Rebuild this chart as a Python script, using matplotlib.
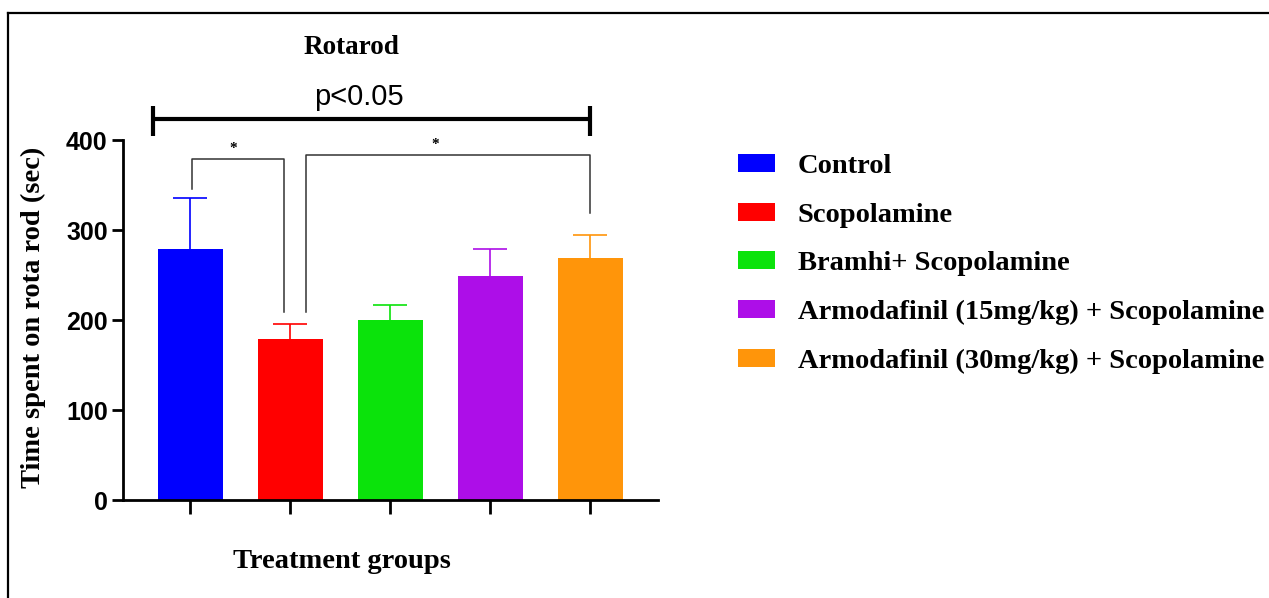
import matplotlib
matplotlib.use("Agg")
import matplotlib.pyplot as plt
from matplotlib.lines import Line2D

# ---- data ----
groups = ["Control", "Scopolamine", "Bramhi+ Scopolamine",
          "Armodafinil (15mg/kg) + Scopolamine", "Armodafinil (30mg/kg) + Scopolamine"]
means = [279, 179, 200, 249, 269]
sems = [57, 17, 17, 30, 25]
colors = ["#0000ff", "#ff0000", "#0be30b", "#ad0ee8", "#ff950a"]
yticks = [0, 100, 200, 300, 400]

W, H = 1269, 598
fig = plt.figure(figsize=(W / 100, H / 100), dpi=100)
fig.patch.set_facecolor("white")

ax = fig.add_axes([123 / W, (H - 500) / H, (658 - 123) / W, 360 / H])
x = list(range(len(groups)))
bars = ax.bar(x, means, width=0.65, color=colors, zorder=2)
for xi, m, s, c in zip(x, means, sems, colors):
    ax.errorbar(xi, m, yerr=s, fmt="none", ecolor=c, elinewidth=1.2,
                capsize=12, capthick=1.2, zorder=1)

ax.set_xlim(-0.675, 4.68)
ax.set_ylim(0, 400)
ax.set_yticks(yticks)
ax.set_xticks(x)
ax.set_xticklabels([])
for s in ["top", "right"]:
    ax.spines[s].set_visible(False)
for s in ["left", "bottom"]:
    ax.spines[s].set_linewidth(2.0)
ax.tick_params(axis="y", length=8, width=2.0, pad=3, labelsize=18)
ax.tick_params(axis="x", length=10, width=2.0)
for lab in ax.get_yticklabels():
    lab.set_fontfamily("Liberation Sans")
    lab.set_fontweight("bold")

serif = "Liberation Serif"
fs = 20.5

# significance brackets
kw = dict(color="#333333", lw=1.1, clip_on=False)
ax.plot([0.02, 0.02, 0.94, 0.94], [346, 379, 379, 209], **kw)
ax.plot([1.16, 1.16, 4.0, 4.0], [209, 383, 383, 319], **kw)
ax.text(0.43, 383, "*", ha="center", va="bottom", fontsize=11, fontweight="bold",
        fontfamily=serif)
ax.text(2.45, 388, "*", ha="center", va="bottom", fontsize=11, fontweight="bold",
        fontfamily=serif)

# big p-value bar
for xs, ys in [([-0.37, 4.0], [423, 423]), ([-0.37, -0.37], [404, 438]),
               ([4.0, 4.0], [404, 438])]:
    ax.plot(xs, ys, color="black", lw=3.0, clip_on=False, solid_capstyle="butt")
fig.text(359 / W, 1 - 97 / H, "p<0.05", ha="center", va="center", fontsize=21,
         fontfamily="Liberation Sans")

# titles / labels
fig.text(352 / W, 1 - 48 / H, "Rotarod", ha="center", va="center", fontsize=19.5,
         fontweight="bold", fontfamily=serif)
fig.text(342 / W, 1 - 562 / H, "Treatment groups", ha="center", va="center",
         fontsize=fs, fontweight="bold", fontfamily=serif)
fig.text(33 / W, 1 - 317 / H, "Time spent on rota rod (sec)", ha="center",
         va="center", rotation=90, fontsize=fs, fontweight="bold", fontfamily=serif)

# legend
leg = fig.legend(bars.patches, groups, loc="upper left",
                 bbox_to_anchor=(738 / W, 1 - 154 / H), frameon=False,
                 borderpad=0, borderaxespad=0, handlelength=1.3,
                 handleheight=0.6, handletextpad=0.8, labelspacing=0.83,
                 prop={"family": serif, "weight": "bold", "size": fs})

# figure frame (top and left only)
fig.add_artist(Line2D([8 / W, 8 / W], [0, 1 - 13 / H], color="black", lw=1.6,
                      transform=fig.transFigure))
fig.add_artist(Line2D([8 / W, 1], [1 - 13 / H, 1 - 13 / H], color="black", lw=1.6,
                      transform=fig.transFigure))

fig.savefig("out.png", dpi=100)
